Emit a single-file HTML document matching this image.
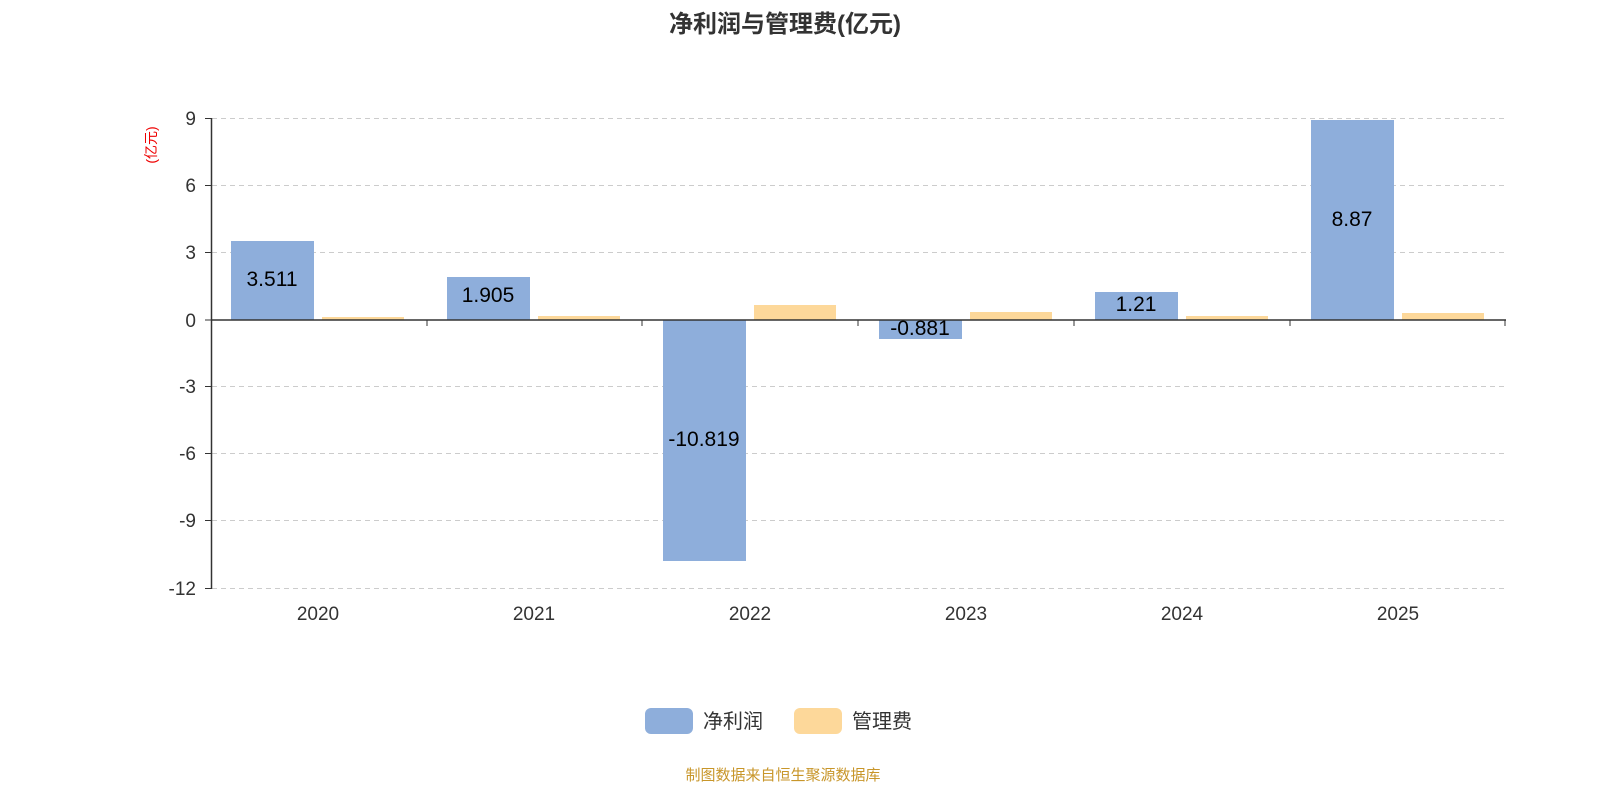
<!DOCTYPE html>
<html><head><meta charset="utf-8"><style>
body{margin:0;background:#fff;width:1600px;height:800px;overflow:hidden}
svg{display:block;font-family:"Liberation Sans","Noto Sans CJK SC",sans-serif}
</style></head><body>
<svg width="1600" height="800" viewBox="0 0 1600 800">
<text x="785" y="32" text-anchor="middle" font-size="24" font-weight="bold" fill="#333">净利润与管理费(亿元)</text>
<text transform="translate(156,145) rotate(-90)" text-anchor="middle" font-size="14" fill="#e00">(亿元)</text>
<g stroke="#ccc" stroke-dasharray="5,4" stroke-width="1">
<line x1="212" x2="1505" y1="118.5" y2="118.5"/><line x1="212" x2="1505" y1="185.5" y2="185.5"/>
<line x1="212" x2="1505" y1="252.5" y2="252.5"/><line x1="212" x2="1505" y1="386.5" y2="386.5"/>
<line x1="212" x2="1505" y1="453.5" y2="453.5"/><line x1="212" x2="1505" y1="520.5" y2="520.5"/>
<line x1="212" x2="1505" y1="588.5" y2="588.5"/>
</g>
<g fill="#8eaedb">
<rect x="231" y="241" width="83" height="79"/>
<rect x="447" y="277" width="83" height="43"/>
<rect x="663" y="320" width="83" height="241"/>
<rect x="879" y="320" width="83" height="19"/>
<rect x="1095" y="292" width="83" height="28"/>
<rect x="1311" y="120" width="83" height="200"/>
</g>
<g fill="#fdd89a">
<rect x="322" y="317" width="82" height="3"/>
<rect x="538" y="316" width="82" height="4"/>
<rect x="754" y="305" width="82" height="15"/>
<rect x="970" y="312" width="82" height="8"/>
<rect x="1186" y="316" width="82" height="4"/>
<rect x="1402" y="313" width="82" height="7"/>
</g>
<g stroke="#333" stroke-width="1.5">
<line x1="211.5" y1="118" x2="211.5" y2="589"/>
<line x1="211" y1="320" x2="1506" y2="320"/>
</g>
<g stroke="#333" stroke-width="1">
<line x1="205" x2="211" y1="118.5" y2="118.5"/><line x1="205" x2="211" y1="185.5" y2="185.5"/>
<line x1="205" x2="211" y1="252.5" y2="252.5"/><line x1="205" x2="211" y1="320" y2="320"/>
<line x1="205" x2="211" y1="386.5" y2="386.5"/><line x1="205" x2="211" y1="453.5" y2="453.5"/>
<line x1="205" x2="211" y1="520.5" y2="520.5"/><line x1="205" x2="211" y1="588.5" y2="588.5"/>
<line x1="427" x2="427" y1="320" y2="326"/><line x1="642" x2="642" y1="320" y2="326"/>
<line x1="858" x2="858" y1="320" y2="326"/><line x1="1074" x2="1074" y1="320" y2="326"/>
<line x1="1290" x2="1290" y1="320" y2="326"/><line x1="1505" x2="1505" y1="320" y2="326"/>
</g>
<g font-size="19" fill="#333" text-anchor="end">
<text x="196" y="125">9</text><text x="196" y="192">6</text><text x="196" y="259">3</text>
<text x="196" y="327">0</text><text x="196" y="393">-3</text><text x="196" y="460">-6</text>
<text x="196" y="527">-9</text><text x="196" y="595">-12</text>
</g>
<g font-size="19" fill="#333" text-anchor="middle">
<text x="318" y="620">2020</text><text x="534" y="620">2021</text><text x="750" y="620">2022</text>
<text x="966" y="620">2023</text><text x="1182" y="620">2024</text><text x="1398" y="620">2025</text>
</g>
<g font-size="21" fill="#000" text-anchor="middle">
<text x="272" y="286">3.511</text><text x="488" y="302">1.905</text><text x="704" y="446">-10.819</text>
<text x="920" y="335">-0.881</text><text x="1136" y="311">1.21</text><text x="1352" y="226">8.87</text>
</g>
<rect x="645" y="708" width="48" height="26" rx="6" fill="#8eaedb"/>
<text x="703" y="728" font-size="20" fill="#333">净利润</text>
<rect x="794" y="708" width="48" height="26" rx="6" fill="#fdd89a"/>
<text x="852" y="728" font-size="20" fill="#333">管理费</text>
<text x="783" y="780" text-anchor="middle" font-size="15" fill="#c8962a">制图数据来自恒生聚源数据库</text>
</svg>
</body></html>
